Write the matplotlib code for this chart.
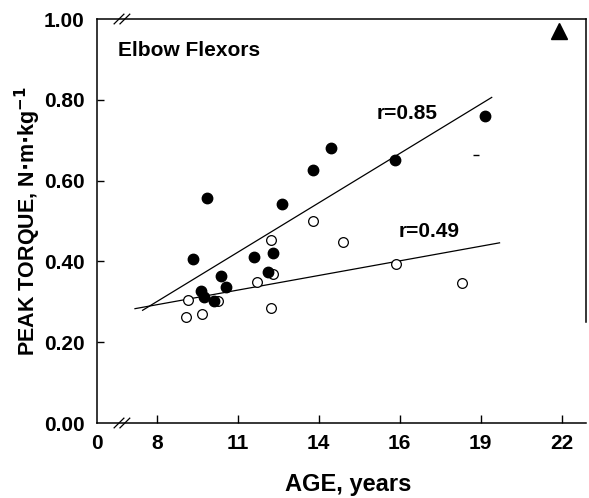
import numpy as np
import matplotlib as mpl
mpl.use('Agg')
import matplotlib.pyplot as plt

plt.rcParams['font.family'] = ['Liberation Sans', 'DejaVu Sans']
plt.rcParams['font.weight'] = 'bold'

# x axis is not linear in age: ticks are evenly spaced
tick_ages = [0, 8, 11, 14, 16, 19, 22]
tick_labels = ['0', '8', '11', '14', '16', '19', '22']
y_ticks = [0.0, 0.2, 0.4, 0.6, 0.8, 1.0]

# filled circles
filled_age = [9.35, 9.87, 9.65, 9.76, 10.12, 10.38, 10.56, 11.59, 12.11,
              12.30, 12.63, 13.78, 14.30, 15.88, 19.15]
filled_tq = [0.407, 0.558, 0.326, 0.311, 0.301, 0.363, 0.336, 0.412, 0.373,
             0.420, 0.541, 0.627, 0.681, 0.652, 0.760]

# open circles
open_age = [9.06, 9.17, 9.68, 10.27, 11.70, 12.22, 12.30, 12.22, 13.78,
            14.59, 15.90, 18.29]
open_tq = [0.262, 0.304, 0.269, 0.301, 0.348, 0.452, 0.370, 0.284, 0.499,
           0.447, 0.393, 0.346]

# regression line end points (age, torque)
line85_age = [6.09, 19.41]
line85_tq = [0.279, 0.806]
line49_age = [5.07, 19.70]
line49_tq = [0.283, 0.446]

tick_pos = [0.26, 1, 2, 3, 4, 5, 6]


def to_pos(age):
    return np.interp(age, tick_ages, tick_pos)


fig = plt.figure(figsize=(5.89, 4.98), dpi=100)
ax = fig.add_axes([0.1647, 0.1506, 0.830, 0.8112])

ax.plot(to_pos(line85_age), line85_tq, color='black', lw=0.9)
ax.plot(to_pos(line49_age), line49_tq, color='black', lw=0.9)
ax.plot(to_pos(open_age), open_tq, 'o', ms=7, mfc='white', mec='black', mew=0.9)
ax.plot(to_pos(filled_age), filled_tq, 'o', ms=7.5, color='black')
ax.plot(to_pos([18.81]), [0.664], '_', ms=5, color='black', mew=1)

ax.set_xlim(0.26, 6.30)
ax.set_ylim(0, 1.0)
ax.set_xticks(tick_pos)
ax.set_xticklabels(tick_labels)
ax.set_yticks(y_ticks)
ax.set_yticklabels(['{:.2f}'.format(v) for v in y_ticks])
ax.tick_params(axis='x', direction='in', length=6, width=1, labelsize=15, pad=8)
ax.tick_params(axis='y', direction='in', length=5, width=1, labelsize=15, pad=9)
ax.xaxis.get_major_ticks()[0].tick1line.set_visible(False)
ax.yaxis.get_major_ticks()[0].tick1line.set_visible(False)
ax.yaxis.get_major_ticks()[-1].tick1line.set_visible(False)

for s in ax.spines.values():
    s.set_linewidth(1.1)
ax.spines['right'].set_bounds(0.25, 1.0)

# axis breaks
for dx in (0.0, 0.012):
    for yb in (0.0, 1.0):
        ax.plot([0.035 + dx, 0.055 + dx], [yb - 0.012, yb + 0.012], transform=ax.transAxes,
                color='black', lw=0.9, clip_on=False)

ax.text(0.043, 0.923, 'Elbow Flexors', transform=ax.transAxes, fontsize=15,
        fontweight='bold', va='center')
ax.text(to_pos(15.43), 0.765, 'r=0.85', fontsize=15, fontweight='bold', va='center')
ax.text(to_pos(15.98), 0.475, 'r=0.49', fontsize=15, fontweight='bold', va='center')
ax.plot([0.945], [0.97], '^', ms=11, color='black', transform=ax.transAxes, clip_on=False)

ax.set_xlabel('AGE, years', fontsize=17, fontweight='bold')
ax.xaxis.set_label_coords(0.514, -0.124)
ax.set_ylabel(r'PEAK TORQUE, N$\cdot$m$\cdot$kg$^{\mathbf{-1}}$', fontsize=15.5,
              fontweight='bold')
ax.yaxis.set_label_coords(-0.11, 0.5)

fig.savefig('out.png', dpi=100)
